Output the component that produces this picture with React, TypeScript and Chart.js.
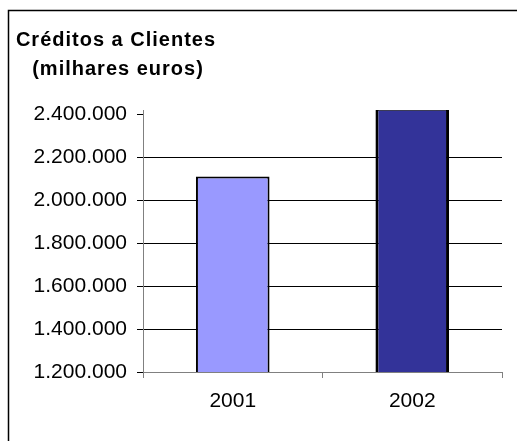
import { useEffect, useRef } from "react";
import { Chart, registerables } from "chart.js";

Chart.register(...registerables);

// Loans to customers, thousands of euros
const years = ["2001", "2002"];
const credits = [2110000, 2430000];
const barColors = ["#9999FF", "#333399"];
const barBorderWidths = [2, 3];
const yTicks = [1200000, 1400000, 1600000, 1800000, 2000000, 2200000, 2400000];
const yMin = 1200000;
const yMax = 2420000;
const titleLines = ["Créditos a Clientes", "(milhares euros)"];

const FONT = '"Liberation Sans", Arial, sans-serif';

const formatThousands = (v: number) =>
  String(Math.round(v)).replace(/\B(?=(\d{3})+(?!\d))/g, ".");

// Draws the outer frame and the two-line heading on the canvas
const frameAndTitle = {
  id: "frameAndTitle",
  afterDraw(chart: any) {
    const ctx = chart.ctx as CanvasRenderingContext2D;
    ctx.save();
    ctx.strokeStyle = "#000";
    ctx.lineWidth = 1.5;
    ctx.beginPath();
    ctx.moveTo(8.5, chart.height + 2);
    ctx.lineTo(8.5, 10.5);
    ctx.lineTo(chart.width + 2, 10.5);
    ctx.stroke();

    ctx.fillStyle = "#000";
    ctx.font = `bold 20px ${FONT}`;
    (ctx as any).letterSpacing = "1px";
    ctx.textAlign = "center";
    ctx.textBaseline = "alphabetic";
    ctx.fillText(titleLines[0], 116, 46);
    ctx.fillText(titleLines[1], 118, 75);
    ctx.restore();
  },
};

export default function App() {
  const canvasRef = useRef<HTMLCanvasElement | null>(null);

  useEffect(() => {
    const canvas = canvasRef.current;
    if (!canvas) return;
    const chart = new Chart(canvas, {
      type: "bar",
      data: {
        labels: years,
        datasets: [
          {
            data: credits,
            backgroundColor: barColors,
            borderColor: "#000",
            borderWidth: barBorderWidths,
            borderSkipped: false,
            categoryPercentage: 1,
            barPercentage: 0.41,
            clip: 0,
          },
        ],
      },
      options: {
        responsive: false,
        animation: false,
        devicePixelRatio: 1,
        layout: { padding: { top: 110, right: 15, left: 0, bottom: 0 } },
        plugins: {
          legend: { display: false },
          title: { display: false },
          tooltip: { enabled: false },
        },
        scales: {
          x: {
            grid: {
              drawOnChartArea: false,
              drawTicks: true,
              tickLength: 6,
              tickColor: "#808080",
              offset: true,
            },
            border: { display: true, color: "#808080", width: 1 },
            ticks: {
              color: "#000",
              font: { family: FONT, size: 21 },
              padding: 11,
              maxRotation: 0,
            },
            afterFit(scale: any) {
              scale.height = 69;
            },
          },
          y: {
            min: yMin,
            max: yMax,
            afterBuildTicks(scale: any) {
              scale.ticks = yTicks.map((value) => ({ value }));
            },
            grid: {
              color: (ctx: any) =>
                ctx.tick && (ctx.tick.value === yMin || ctx.tick.value === yTicks[yTicks.length - 1])
                  ? "rgba(0,0,0,0)"
                  : "#000",
              lineWidth: 1,
              drawTicks: true,
              tickLength: 6,
              tickColor: "#000",
            },
            border: { display: true, color: "#808080", width: 1 },
            ticks: {
              color: "#000",
              font: { family: FONT, size: 21 },
              padding: 10,
              callback: (v: any) => formatThousands(Number(v)),
            },
            afterFit(scale: any) {
              scale.width = 143;
            },
          },
        },
      },
      plugins: [frameAndTitle],
    });
    return () => chart.destroy();
  }, []);

  return (
    <div
      style={{
        position: "absolute",
        left: 0,
        top: 0,
        width: 517,
        height: 441,
        overflow: "hidden",
        background: "#fff",
      }}
    >
      <canvas ref={canvasRef} width={517} height={441} style={{ display: "block" }} />
    </div>
  );
}
